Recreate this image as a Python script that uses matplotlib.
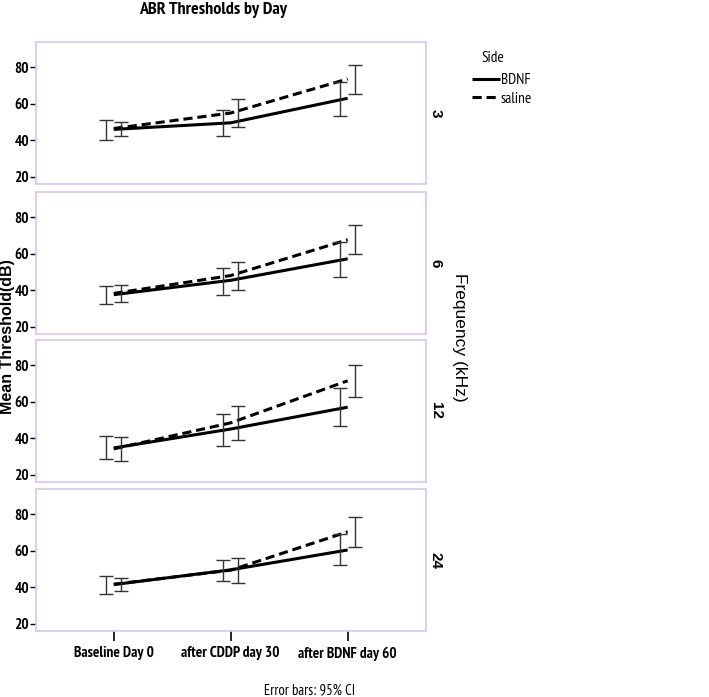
import matplotlib
matplotlib.use('Agg')
import matplotlib.pyplot as plt
from matplotlib import font_manager as fm
import numpy as np

# DATA
days = ['Baseline Day 0', 'after CDDP day 30', 'after BDNF day 60']
freqs = ['3', '6', '12', '24']

# means per frequency (rows) and day (cols)
bdnf_mean = [[46.0, 49.6, 63.1],
             [37.6, 45.5, 57.3],
             [34.7, 45.1, 57.1],
             [41.5, 49.6, 60.5]]
bdnf_lo = [[40.2, 42.4, 53.3],
           [32.7, 37.3, 47.5],
           [28.4, 35.6, 46.5],
           [36.5, 43.6, 52.0]]
bdnf_hi = [[51.1, 56.7, 72.2],
           [42.2, 52.4, 66.7],
           [41.5, 53.1, 67.8],
           [46.4, 55.1, 69.1]]

saline_mean = [[46.5, 55.0, 73.7],
               [38.3, 48.1, 67.8],
               [34.2, 48.5, 71.6],
               [41.7, 49.4, 70.5]]
saline_lo = [[42.5, 47.1, 65.6],
             [33.5, 40.4, 60.0],
             [27.5, 39.1, 62.5],
             [38.2, 42.5, 62.2]]
saline_hi = [[49.8, 62.5, 81.5],
             [42.7, 55.8, 75.6],
             [40.9, 57.5, 80.5],
             [45.1, 56.2, 78.7]]

# pick a narrow font that has a real bold face (Arial Narrow look), else DejaVu condensed
narrow = 'DejaVu Sans'
for cand in ['PT Sans Narrow', 'Roboto Condensed', 'Archivo Narrow', 'Liberation Sans Narrow']:
    bolds = [f for f in fm.fontManager.ttflist
             if f.name == cand and isinstance(f.weight, int) and f.weight >= 600]
    if bolds:
        narrow = cand
        break
plt.rcParams['font.family'] = [narrow, 'DejaVu Sans']
plt.rcParams['font.stretch'] = 'condensed'
arial = ['Liberation Sans', 'DejaVu Sans']
sz = 11 if narrow != 'DejaVu Sans' else 9.5

fig = plt.figure(figsize=(7.09, 6.97), dpi=100)
W, H = 709.0, 697.0
panel_tops = [42, 192, 340, 489]
panel_h = 142
left, right = 36, 426
border = '#dcc4ee'

x = np.arange(len(days))
dodge = 0.065

axes = []
for i, f in enumerate(freqs):
    top = panel_tops[i]
    ax = fig.add_axes([left / W, 1 - (top + panel_h) / H, (right - left) / W, panel_h / H])
    axes.append(ax)
    bm = np.array(bdnf_mean[i]); sm = np.array(saline_mean[i])
    ax.plot(x, bm, color='black', lw=2.2, solid_capstyle='butt', label='BDNF')
    ax.plot(x, sm, color='black', lw=2.2, ls=(0, (3, 1.6)), label='saline')
    # error bars (dodged)
    bl = np.array(bdnf_lo[i]); bh = np.array(bdnf_hi[i])
    sl = np.array(saline_lo[i]); sh = np.array(saline_hi[i])
    ax.errorbar(x - dodge, (bl + bh) / 2, yerr=(bh - bl) / 2, fmt='none',
                ecolor='#333333', elinewidth=1.0, capsize=5, capthick=1.0)
    ax.errorbar(x + dodge, (sl + sh) / 2, yerr=(sh - sl) / 2, fmt='none',
                ecolor='#333333', elinewidth=1.0, capsize=5, capthick=1.0)
    ax.set_xlim(-0.665, 2.67)
    ax.set_ylim(16, 94)
    ax.set_yticks([20, 40, 60, 80])
    ax.tick_params(axis='y', length=4, width=1, pad=1, labelsize=sz)
    for lab in ax.get_yticklabels():
        lab.set_fontweight('bold')
    for s in ax.spines.values():
        s.set_color(border)
        s.set_linewidth(1.2)
    if i < 3:
        ax.set_xticks([])
    else:
        ax.set_xticks(x)
        ax.set_xticklabels(days, fontweight='bold', fontsize=sz)
        ax.tick_params(axis='x', length=7, width=1.2, pad=4)
    ax.text(1.025, 0.5, f, transform=ax.transAxes, rotation=-90, ha='center', va='center',
            fontsize=11, fontweight='bold', family=arial, stretch='normal')

fig.text(213 / W, 1 - 10 / H, 'ABR Thresholds by Day', ha='center', va='center',
         fontsize=sz + 2, fontweight='bold')
fig.text(8 / W, 1 - 337 / H, 'Mean Threshold(dB)', rotation=90, ha='center', va='center',
         fontsize=11.5, fontweight='bold', family=arial, stretch='normal')
fig.text(460 / W, 1 - 337 / H, 'Frequency (kHz)', rotation=-90, ha='center', va='center',
         fontsize=12.5, family=arial, stretch='normal')
fig.text(310 / W, 1 - 690 / H, 'Error bars: 95% CI', ha='center', va='center', fontsize=sz - 0.5)

# legend
fig.text(493 / W, 1 - 58 / H, 'Side', ha='center', va='center', fontsize=sz)
fig.legend(handles=axes[0].get_lines()[:2], labels=['BDNF', 'saline'],
           loc='upper left', bbox_to_anchor=(472 / W, 1 - 73 / H), frameon=False,
           handlelength=1.8, handletextpad=0.1, labelspacing=0.3, fontsize=sz,
           borderaxespad=0, borderpad=0)

fig.savefig('out.png', dpi=100)
